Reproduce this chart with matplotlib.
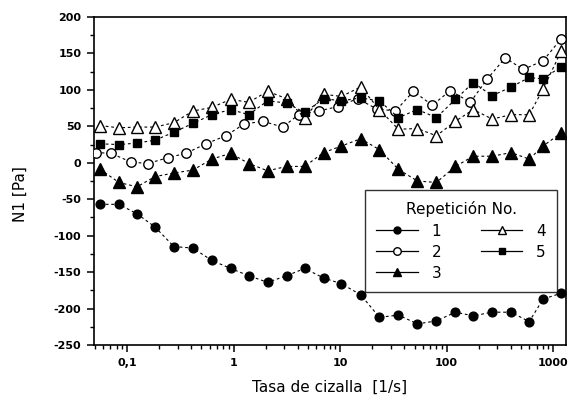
import matplotlib
matplotlib.use("Agg")
import matplotlib.pyplot as plt
from matplotlib.lines import Line2D
from matplotlib.ticker import FixedLocator, LogLocator, MultipleLocator, NullFormatter

plt.rcParams['font.family'] = ['DejaVu Sans']
plt.rcParams['axes.unicode_minus'] = False

# Shear rate grid (1/s) for repetitions 1, 3, 4, 5
x_main = [0.056, 0.084, 0.124, 0.183, 0.276, 0.415, 0.626, 0.94, 1.39, 2.09,
          3.15, 4.65, 7.0, 10.3, 15.6, 23.4, 35.3, 53.2, 80.2, 121,
          178, 268, 404, 596, 805, 1189]
# Shear rate grid for repetition 2
x_rep2 = [0.0512, 0.0708, 0.109, 0.157, 0.242, 0.357, 0.55, 0.846, 1.25, 1.88,
          2.89, 4.09, 6.29, 9.47, 14.6, 22.0, 33.1, 48.8, 73.5, 108,
          167, 241, 355, 523, 805, 1189]

rep1 = [-57, -57, -70, -88, -115, -117, -134, -145, -155, -164,
        -155, -145, -158, -166, -181, -212, -209, -221, -217, -205,
        -210, -205, -205, -218, -187, -179]
rep2 = [14, 13, 1, -1, 7, 13, 26, 37, 53, 57,
        49, 66, 71, 77, 88, 74, 71, 98, 79, 99,
        83, 115, 144, 128, 140, 170]
rep3 = [-9, -27, -33, -19, -14, -10, 5, 13, -1, -11,
        -5, -5, 14, 23, 33, 18, -9, -25, -27, -5,
        9, 9, 14, 5, 23, 41]
rep4 = [51, 48, 49, 49, 55, 71, 76, 87, 83, 98,
        88, 61, 94, 91, 104, 73, 46, 47, 37, 57,
        73, 60, 66, 66, 101, 153]
rep5 = [26, 25, 27, 31, 42, 54, 66, 73, 66, 85,
        82, 69, 88, 85, 89, 85, 62, 73, 62, 87,
        110, 92, 104, 117, 115, 132]

x_ticks = [0.1, 1, 10, 100, 1000]
x_ticklabels = ['0,1', '1', '10', '100', '1000']
legend_labels = ['1', '2', '3', '4', '5']
legend_title = 'Repetición No.'
xlabel = 'Tasa de cizalla  [1/s]'
ylabel = 'N1 [Pa]'

fig = plt.figure(figsize=(5.71, 4.0), dpi=100)
ax = fig.add_axes([0.1646, 0.1375, 0.8266, 0.82])

series = [
    (x_main, rep1, dict(marker='o', mfc='black', ms=6.3)),
    (x_rep2, rep2, dict(marker='o', mfc='white', ms=6.8)),
    (x_main, rep3, dict(marker='^', mfc='black', ms=8)),
    (x_main, rep4, dict(marker='^', mfc='white', ms=8)),
    (x_main, rep5, dict(marker='s', mfc='black', ms=6)),
]
dash = (0, (2.5, 2.5))
for xs, ys, st in series:
    ax.plot(xs, ys, color='black', lw=0.8, linestyle=dash, mec='black',
            mew=1.0, zorder=3, **st)

ax.set_xscale('log')
ax.set_xlim(0.049, 1320)
ax.set_ylim(-250, 200)

ax.xaxis.set_major_locator(FixedLocator(x_ticks))
ax.set_xticklabels(x_ticklabels)
ax.xaxis.set_minor_locator(LogLocator(base=10, subs=range(2, 10)))
ax.xaxis.set_minor_formatter(NullFormatter())
ax.yaxis.set_major_locator(MultipleLocator(50))
ax.yaxis.set_minor_locator(MultipleLocator(25))

ax.tick_params(which='major', direction='out', length=5, width=1.1,
               labelsize=8, pad=4)
ax.tick_params(which='minor', direction='out', length=3, width=1.0)
ax.tick_params(top=False, right=False, which='both')
for lab in ax.get_xticklabels() + ax.get_yticklabels():
    lab.set_fontweight('bold')
for sp in ax.spines.values():
    sp.set_linewidth(1.2)

ax.set_xlabel(xlabel, fontsize=11, labelpad=9)
ax.set_ylabel(ylabel, fontsize=11)
ax.yaxis.set_label_coords(-0.14, 0.46)

handles = [Line2D([], [], color='black', lw=0.9, mec='black', mew=1.0, **st)
           for _, _, st in series]
for h in handles:
    h.set_markersize(h.get_markersize() * 0.8)
leg = ax.legend(handles, legend_labels, title=legend_title, ncol=2,
                loc='upper right', bbox_to_anchor=(0.981, 0.4726),
                fontsize=11, title_fontsize=11,
                frameon=True, fancybox=False, edgecolor='black',
                handlelength=2.7, handletextpad=0.9, borderaxespad=0,
                labelspacing=0.4, columnspacing=2.6, borderpad=0.75)
leg.get_frame().set_linewidth(1.0)
leg.set_zorder(5)

fig.savefig('out.png', dpi=100)
